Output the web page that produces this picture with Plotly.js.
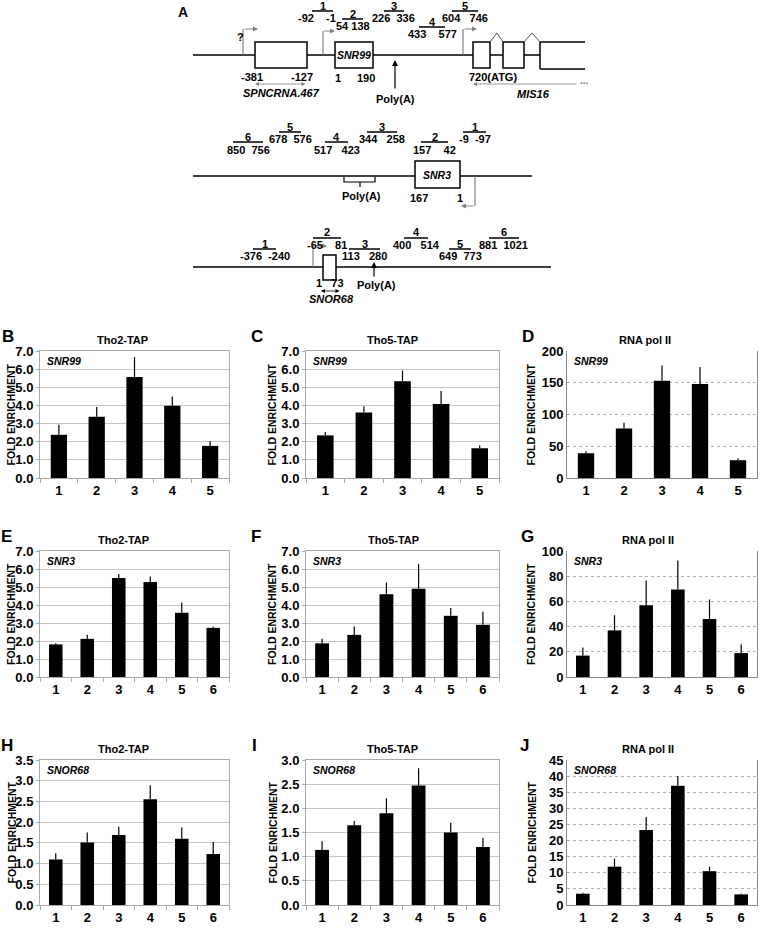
<!DOCTYPE html>
<html><head><meta charset="utf-8">
<script src="https://cdn.plot.ly/plotly-3.0.1.min.js"></script>
<style>html,body{margin:0;padding:0;background:#fff}#chart{width:760px;height:937px}</style>
</head><body><div id="chart"></div>
<script>
// ---------------- DATA ----------------
const sites5 = ['1','2','3','4','5'];
const sites6 = ['1','2','3','4','5','6'];
const tho2SNR99 = [2.38, 3.38, 5.57, 3.98, 1.77];
const tho2SNR99Err = [0.56, 0.54, 1.09, 0.51, 0.27];
const tho5SNR99 = [2.35, 3.61, 5.33, 4.08, 1.64];
const tho5SNR99Err = [0.19, 0.35, 0.59, 0.71, 0.15];
const pol2SNR99 = [39, 78, 153, 148, 28];
const pol2SNR99Err = [3, 9, 24, 27, 3];
const tho2SNR3 = [1.81, 2.12, 5.5, 5.28, 3.57, 2.73];
const tho2SNR3Err = [0.07, 0.23, 0.22, 0.3, 0.57, 0.07];
const tho5SNR3 = [1.87, 2.34, 4.6, 4.9, 3.4, 2.9];
const tho5SNR3Err = [0.25, 0.47, 0.65, 1.37, 0.44, 0.72];
const pol2SNR3 = [17, 37, 57, 69.5, 46, 19];
const pol2SNR3Err = [6.5, 12, 19.5, 23, 15.5, 7];
const tho2SNOR68 = [1.1, 1.51, 1.69, 2.55, 1.6, 1.23];
const tho2SNOR68Err = [0.15, 0.24, 0.2, 0.34, 0.27, 0.29];
const tho5SNOR68 = [1.14, 1.65, 1.9, 2.47, 1.5, 1.2];
const tho5SNOR68Err = [0.18, 0.09, 0.31, 0.36, 0.2, 0.19];
const pol2SNOR68 = [3.5, 11.9, 23.3, 37, 10.5, 3.3];
const pol2SNOR68Err = [0.3, 2.5, 4, 3, 1.4, 0.3];

const panelLetters = ['B','C','D','E','F','G','H','I','J'];
const panelTitles = ['Tho2-TAP','Tho5-TAP','RNA pol II','Tho2-TAP','Tho5-TAP','RNA pol II','Tho2-TAP','Tho5-TAP','RNA pol II'];
const panelGenes = ['SNR99','SNR99','SNR99','SNR3','SNR3','SNR3','SNOR68','SNOR68','SNOR68'];
const yAxisLabel = 'FOLD ENRICHMENT';

// diagram labels
const snr99PrimerNames = ['1','2','3','4','5'];
const snr99PrimerCoords = ['-92&nbsp;&nbsp;&nbsp;&nbsp;-1','54 138','226&nbsp;&nbsp;336','433&nbsp;&nbsp;&nbsp;&nbsp;577','604&nbsp;&nbsp;&nbsp;746'];
const snr3PrimerNames = ['6','5','4','3','2','1'];
const snr3PrimerCoords = ['850&nbsp;&nbsp;756','678&nbsp;&nbsp;576','517&nbsp;&nbsp;&nbsp;423','344&nbsp;&nbsp;&nbsp;258','157&nbsp;&nbsp;&nbsp;&nbsp;42','-9&nbsp;&nbsp;-97'];
const snor68PrimerNames = ['1','2','3','4','5','6'];
const snor68PrimerCoords = ['-376&nbsp;&nbsp;-240','-65&nbsp;&nbsp;&nbsp;&nbsp;81','113&nbsp;&nbsp;&nbsp;280','400&nbsp;&nbsp;&nbsp;514','649&nbsp;&nbsp;773','881&nbsp;&nbsp;1021'];

// ---------------- LAYOUT ----------------
const W = 760, H = 937;
const FONT = 'Liberation Sans, Arial, sans-serif';
const X = px => px / W, Y = py => 1 - py / H;

const panelData = [
  [sites5, tho2SNR99, tho2SNR99Err], [sites5, tho5SNR99, tho5SNR99Err], [sites5, pol2SNR99, pol2SNR99Err],
  [sites6, tho2SNR3, tho2SNR3Err], [sites6, tho5SNR3, tho5SNR3Err], [sites6, pol2SNR3, pol2SNR3Err],
  [sites6, tho2SNOR68, tho2SNOR68Err], [sites6, tho5SNOR68, tho5SNOR68Err], [sites6, pol2SNOR68, pol2SNOR68Err]
];
const colX = [[40,229],[306,499],[567,757]];
const rowY = [[351,478],[551,677],[760,905]];
const yRanges = [[0,7],[0,7],[0,200],[0,7],[0,7],[0,100],[0,3.5],[0,3],[0,45]];
const yDticks = [1,1,50,1,1,20,0.5,0.5,5];
const yFormats = ['.1f','.1f','d','.1f','.1f','d','.1f','.1f','d'];
const letterX = [8,257,528,7,256,527,7,254,524];
const titleX = [122,392,645,123,393,648,123,392,648];
const yLabelX = [11,272,531];

const traces = [];
const shapes = [];
const annotations = [];
const layout = {
  width: W, height: H, margin: {l:0,r:0,t:0,b:0},
  paper_bgcolor: '#fff', plot_bgcolor: 'rgba(0,0,0,0)',
  showlegend: false, bargap: 0.57,
  font: {family: FONT, color: '#000'}
};

function tx(x, y, t, o = {}) {
  annotations.push({xref:'paper', yref:'paper', x:X(x), y:Y(y), text:t, showarrow:false,
    xanchor:o.xa||'center', yanchor:o.ya||'middle', textangle:o.ang||0,
    font:{family:FONT, size:o.s||11, color:o.c||'#000', weight:'bold', style:o.it?'italic':'normal'}});
}
function ln(x0,y0,x1,y1,c='#000',w=1.5){
  shapes.push({type:'line', xref:'paper', yref:'paper', x0:X(x0), y0:Y(y0), x1:X(x1), y1:Y(y1), line:{color:c,width:w}});
}
function rc(x0,y0,x1,y1){
  shapes.push({type:'rect', xref:'paper', yref:'paper', x0:X(x0), y0:Y(y0), x1:X(x1), y1:Y(y1), line:{color:'#000',width:1.5}, fillcolor:'#fff'});
}
function pth(pts,c='#000',w=1){
  const d = 'M' + pts.map(p => X(p[0]) + ',' + Y(p[1])).join(' L');
  shapes.push({type:'path', xref:'paper', yref:'paper', path:d, line:{color:c,width:w}});
}
function ar(hx,hy,tX,tY,c='#000',both=false,w=1){
  annotations.push({xref:'paper', yref:'paper', x:X(hx), y:Y(hy), ax:tX-hx, ay:tY-hy, text:'',
    showarrow:true, arrowhead:2, arrowsize:1, arrowwidth:w, arrowcolor:c, standoff:0, startstandoff:0,
    arrowside: both ? 'end+start' : 'end', startarrowhead:2});
}

// ---------- bar panels ----------
for (let i = 0; i < 9; i++) {
  const r = Math.floor(i / 3), c = i % 3, n = i + 1;
  const [cats, vals, errs] = panelData[i];
  const isPol = (c === 2);
  traces.push({
    type:'bar', x:cats, y:vals, xaxis:'x'+n, yaxis:'y'+n,
    marker:{color:'#000', line:{width:0}},
    error_y:{type:'data', symmetric:false, array:errs, arrayminus:errs.map(() => 0),
      color:'#000', thickness:1.2, width:0},
    hoverinfo:'none'
  });
  const xa = {
    domain:[X(colX[c][0]), X(colX[c][1])], anchor:'y'+n, type:'category',
    showline:true, linecolor: isPol ? '#8a8a8a' : '#a9a9a9', linewidth:1,
    mirror: !isPol, showgrid:false, zeroline:false,
    ticks: isPol ? '' : 'outside', tickson:'boundaries', ticklen:4, tickcolor:'#a9a9a9',
    tickfont:{family:FONT, size:13, weight:'bold', color:'#000'}, fixedrange:true
  };
  const ya = {
    domain:[Y(rowY[r][1]), Y(rowY[r][0])], anchor:'x'+n,
    range: yRanges[i], dtick: yDticks[i], tick0:0, tickformat: yFormats[i],
    showline:true, linecolor: isPol ? '#8a8a8a' : '#a9a9a9', linewidth:1, mirror:true,
    showgrid:true, gridcolor: isPol ? '#b0b0b0' : '#c6c6c6', gridwidth:1,
    griddash: isPol ? 'dot' : 'solid', zeroline:false,
    ticks: isPol ? '' : 'outside', ticklen:3, tickcolor:'#a9a9a9',
    tickfont:{family:FONT, size:13, weight:'bold', color:'#000'}, fixedrange:true
  };
  layout['xaxis'+(n===1?'':n)] = xa;
  layout['yaxis'+(n===1?'':n)] = ya;

  const top = rowY[r][0], bot = rowY[r][1];
  tx(letterX[i], top - 15, panelLetters[i], {s:17});
  tx(titleX[i], top - 11, panelTitles[i], {s:11});
  tx(colX[c][0] + 5, top + 10, panelGenes[i], {s:10.5, it:true, xa:'left'});
  tx(yLabelX[c], (top + bot) / 2, yAxisLabel, {s:10.5, ang:-90});
}

// ---------- Panel A diagrams ----------
tx(183, 12, 'A', {s:14});
// SNR99 locus
const g1 = 55;
ln(193,g1,255,g1); rc(255,42,307,68); ln(307,g1,335,g1); rc(335,42,373,68);
ln(373,g1,473,g1); rc(473,42,490,68); ln(490,g1,503,g1); rc(503,42,524,68); ln(524,g1,540,g1);
ln(540,42,585,42); ln(540,69,585,69); ln(540,42,540,69);
pth([[490,42],[497,33],[503,42]], '#555'); pth([[524,42],[532,33],[540,42]], '#555');
ln(243,g1,243,29,'#808080',1.2); ar(258,29,243,29,'#808080');
ln(323,g1,323,31,'#808080',1.2); ar(335,31,323,31,'#808080');
ln(463,g1,463,29,'#808080',1.2); ar(477,29,463,29,'#808080');
tx(240,37,'?',{s:11});
tx(354,55,'SNR99',{s:10.5,it:true});
tx(252,77,'-381'); tx(302,77,'-127'); tx(338,78,'1'); tx(366,78,'190'); tx(493,77,'720(ATG)');
ar(255,84,307,84,'#808080',true,0.8);
tx(281,93,'SPNCRNA.467',{it:true});
ar(395,60,395,90,'#000',false,1.2);
tx(395,99,'Poly(A)');
ar(473,84,578,84,'#808080',false,0.8); tx(584,81,'...',{s:10,c:'#808080'});
tx(533,94,'MIS16',{it:true});
const p1x = [[312,333],[342,363],[384,404],[419,445],[452,478]];
const p1lvl = [0,1,0,2,0];
const lvlY = [[6,11,18],[14,19,26],[22,27,34]];
for (let k = 0; k < snr99PrimerNames.length; k++) {
  const [a,b] = p1x[k], L = lvlY[p1lvl[k]], cx = (a+b)/2;
  tx(cx, L[0], snr99PrimerNames[k]); ln(a, L[1], b, L[1], '#000', 1.5); tx(cx + (k===0?-6:0), L[2], snr99PrimerCoords[k]);
}
// SNR3 locus
const g2 = 176;
ln(193,g2,532,g2); rc(415,161,460,188);
tx(437,175,'SNR3',{s:10.5,it:true});
ln(475,g2,475,206,'#808080',1.2); ar(461,206,475,206,'#808080');
tx(419,198,'167'); tx(460,198,'1');
pth([[344,177],[344,182],[375,182],[375,177]],'#000',1.2); ln(360,182,360,187,'#000',1.2);
tx(361,196,'Poly(A)');
const p2x = [[233,263],[279,301],[325,348],[367,397],[421,448],[463,486]];
const p2lvl = [1,0,1,0,1,0];
const lvl2 = [[127,132,139],[137,142,150]];
for (let k = 0; k < snr3PrimerNames.length; k++) {
  const [a,b] = p2x[k], L = lvl2[p2lvl[k]], cx = (a+b)/2;
  tx(cx, L[0], snr3PrimerNames[k]); ln(a, L[1], b, L[1], '#000', 1.5); tx(cx, L[2], snr3PrimerCoords[k]);
}
// SNOR68 locus
const g3 = 267;
ln(193,g3,551,g3); rc(323,255,336,280);
ln(313,g3,313,246,'#808080',1.2); ar(327,246,313,246,'#808080');
ar(374,262,374,278,'#000',false,1.2);
tx(376,285,'Poly(A)');
tx(330,283,'1&nbsp;&nbsp;&nbsp;73');
ar(321,291,341,291,'#000',true,0.8);
tx(331,299,'SNOR68',{it:true});
const p3x = [[253,276],[313,341],[349,380],[404,428],[449,471],[489,519]];
const p3lvl = [1,0,1,0,1,0];
const lvl3 = [[232,238,245],[244,249,256]];
for (let k = 0; k < snor68PrimerNames.length; k++) {
  const [a,b] = p3x[k], L = lvl3[p3lvl[k]], cx = (a+b)/2;
  tx(cx, L[0], snor68PrimerNames[k]); ln(a, L[1], b, L[1], '#000', 1.5); tx(cx, L[2], snor68PrimerCoords[k]);
}

layout.shapes = shapes;
layout.annotations = annotations;
Plotly.newPlot('chart', traces, layout, {staticPlot:true, displayModeBar:false});
</script>
</body></html>
